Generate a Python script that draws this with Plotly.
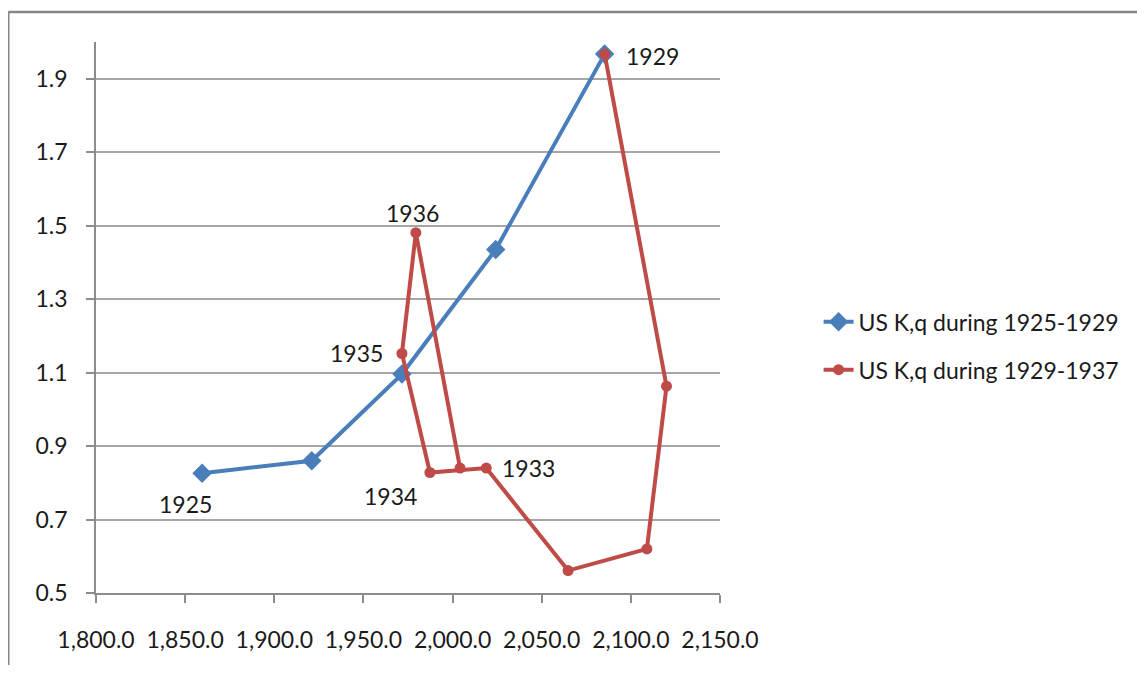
import plotly.graph_objects as go

# Series 1: US K,q during 1925-1929
k_1925_1929 = [1859.5, 1921.0, 1971.6, 2024.2, 2085.3]
q_1925_1929 = [0.826, 0.860, 1.096, 1.435, 1.967]
years_1925_1929 = ["1925", "1926", "1927", "1928", "1929"]

# Series 2: US K,q during 1929-1937
k_1929_1937 = [2085.3, 2120.0, 2109.0, 2064.8, 2018.9, 1987.3, 1971.6, 1979.4, 2004.2]
q_1929_1937 = [1.967, 1.063, 0.620, 0.561, 0.840, 0.828, 1.152, 1.481, 0.840]
years_1929_1937 = ["1929", "1930", "1931", "1932", "1933", "1934", "1935", "1936", "1937"]

series_names = ["US K,q during 1925-1929", "US K,q during 1929-1937"]

# labelled years and their offsets (px) from their point
label_years = ["1925", "1929", "1936", "1935", "1934", "1933"]
label_shift = {"1925": (-17, -31), "1929": (48, -2), "1936": (-3, 20),
               "1935": (-45, 1), "1934": (-39, -23), "1933": (42, 0)}

FONT = "Lato"
FS = 23
fig = go.Figure()
fig.add_trace(go.Scatter(
    x=k_1925_1929, y=q_1925_1929, mode="lines+markers", name=series_names[0],
    line=dict(color="#4A7EBB", width=4),
    marker=dict(symbol="diamond", size=15, color="#4A7EBB"),
    legendgroup="a",
))
fig.add_trace(go.Scatter(
    x=k_1929_1937, y=q_1929_1937, mode="lines+markers", name=series_names[1],
    line=dict(color="#BE4B48", width=4),
    marker=dict(symbol="circle", size=11, color="#BE4B48"),
    legendgroup="b",
))

lookup = {}
for xs, ys, yrs in [(k_1925_1929, q_1925_1929, years_1925_1929),
                    (k_1929_1937, q_1929_1937, years_1929_1937)]:
    for x, y, yr in zip(xs, ys, yrs):
        lookup.setdefault(yr, (x, y))

for yr in label_years:
    x, y = lookup[yr]
    dx, dy = label_shift[yr]
    fig.add_annotation(x=x, y=y, text=yr, showarrow=False, xshift=dx, yshift=dy,
                       font=dict(family=FONT, size=FS, color="#1a1a1a"))

# outer chart border (top and left visible)
fig.add_shape(type="line", xref="paper", yref="paper", x0=-0.1406, x1=1.7, y0=1.0544, y1=1.0544,
              line=dict(color="#868686", width=2.5))
fig.add_shape(type="line", xref="paper", yref="paper", x0=-0.1406, x1=-0.1406, y0=1.0544, y1=-0.3,
              line=dict(color="#868686", width=2.5))

# page body has an 8px margin, so the figure is drawn 8px smaller on each axis
fig.update_layout(
    width=1129, height=657,
    margin=dict(l=88, r=415, t=34, b=72),
    paper_bgcolor="white", plot_bgcolor="white",
    font=dict(family=FONT, size=FS, color="#1a1a1a"),
    legend=dict(x=1.158, y=0.4486, xanchor="left", yanchor="middle",
                traceorder="grouped", tracegroupgap=15,
                font=dict(family=FONT, size=FS, color="#1a1a1a"),
                bgcolor="rgba(0,0,0,0)"),
    xaxis=dict(range=[1800, 2150], tick0=1800, dtick=50, tickformat=",.1f",
               showgrid=False, zeroline=False, showline=True, linecolor="#8c8c8c", linewidth=1.5,
               ticks="outside", ticklen=8, tickcolor="#8c8c8c", tickwidth=1.5,
               ticklabelstandoff=18),
    yaxis=dict(range=[0.5, 2.0], tick0=0.5, dtick=0.2, tickformat=".1f",
               showgrid=True, gridcolor="#a6a6a6", gridwidth=1.5,
               zeroline=False, showline=True, linecolor="#8c8c8c", linewidth=1.5,
               ticks="outside", ticklen=8, tickcolor="#8c8c8c", tickwidth=1.5,
               ticklabelstandoff=14),
    showlegend=True,
)

fig.write_html("out.html")
